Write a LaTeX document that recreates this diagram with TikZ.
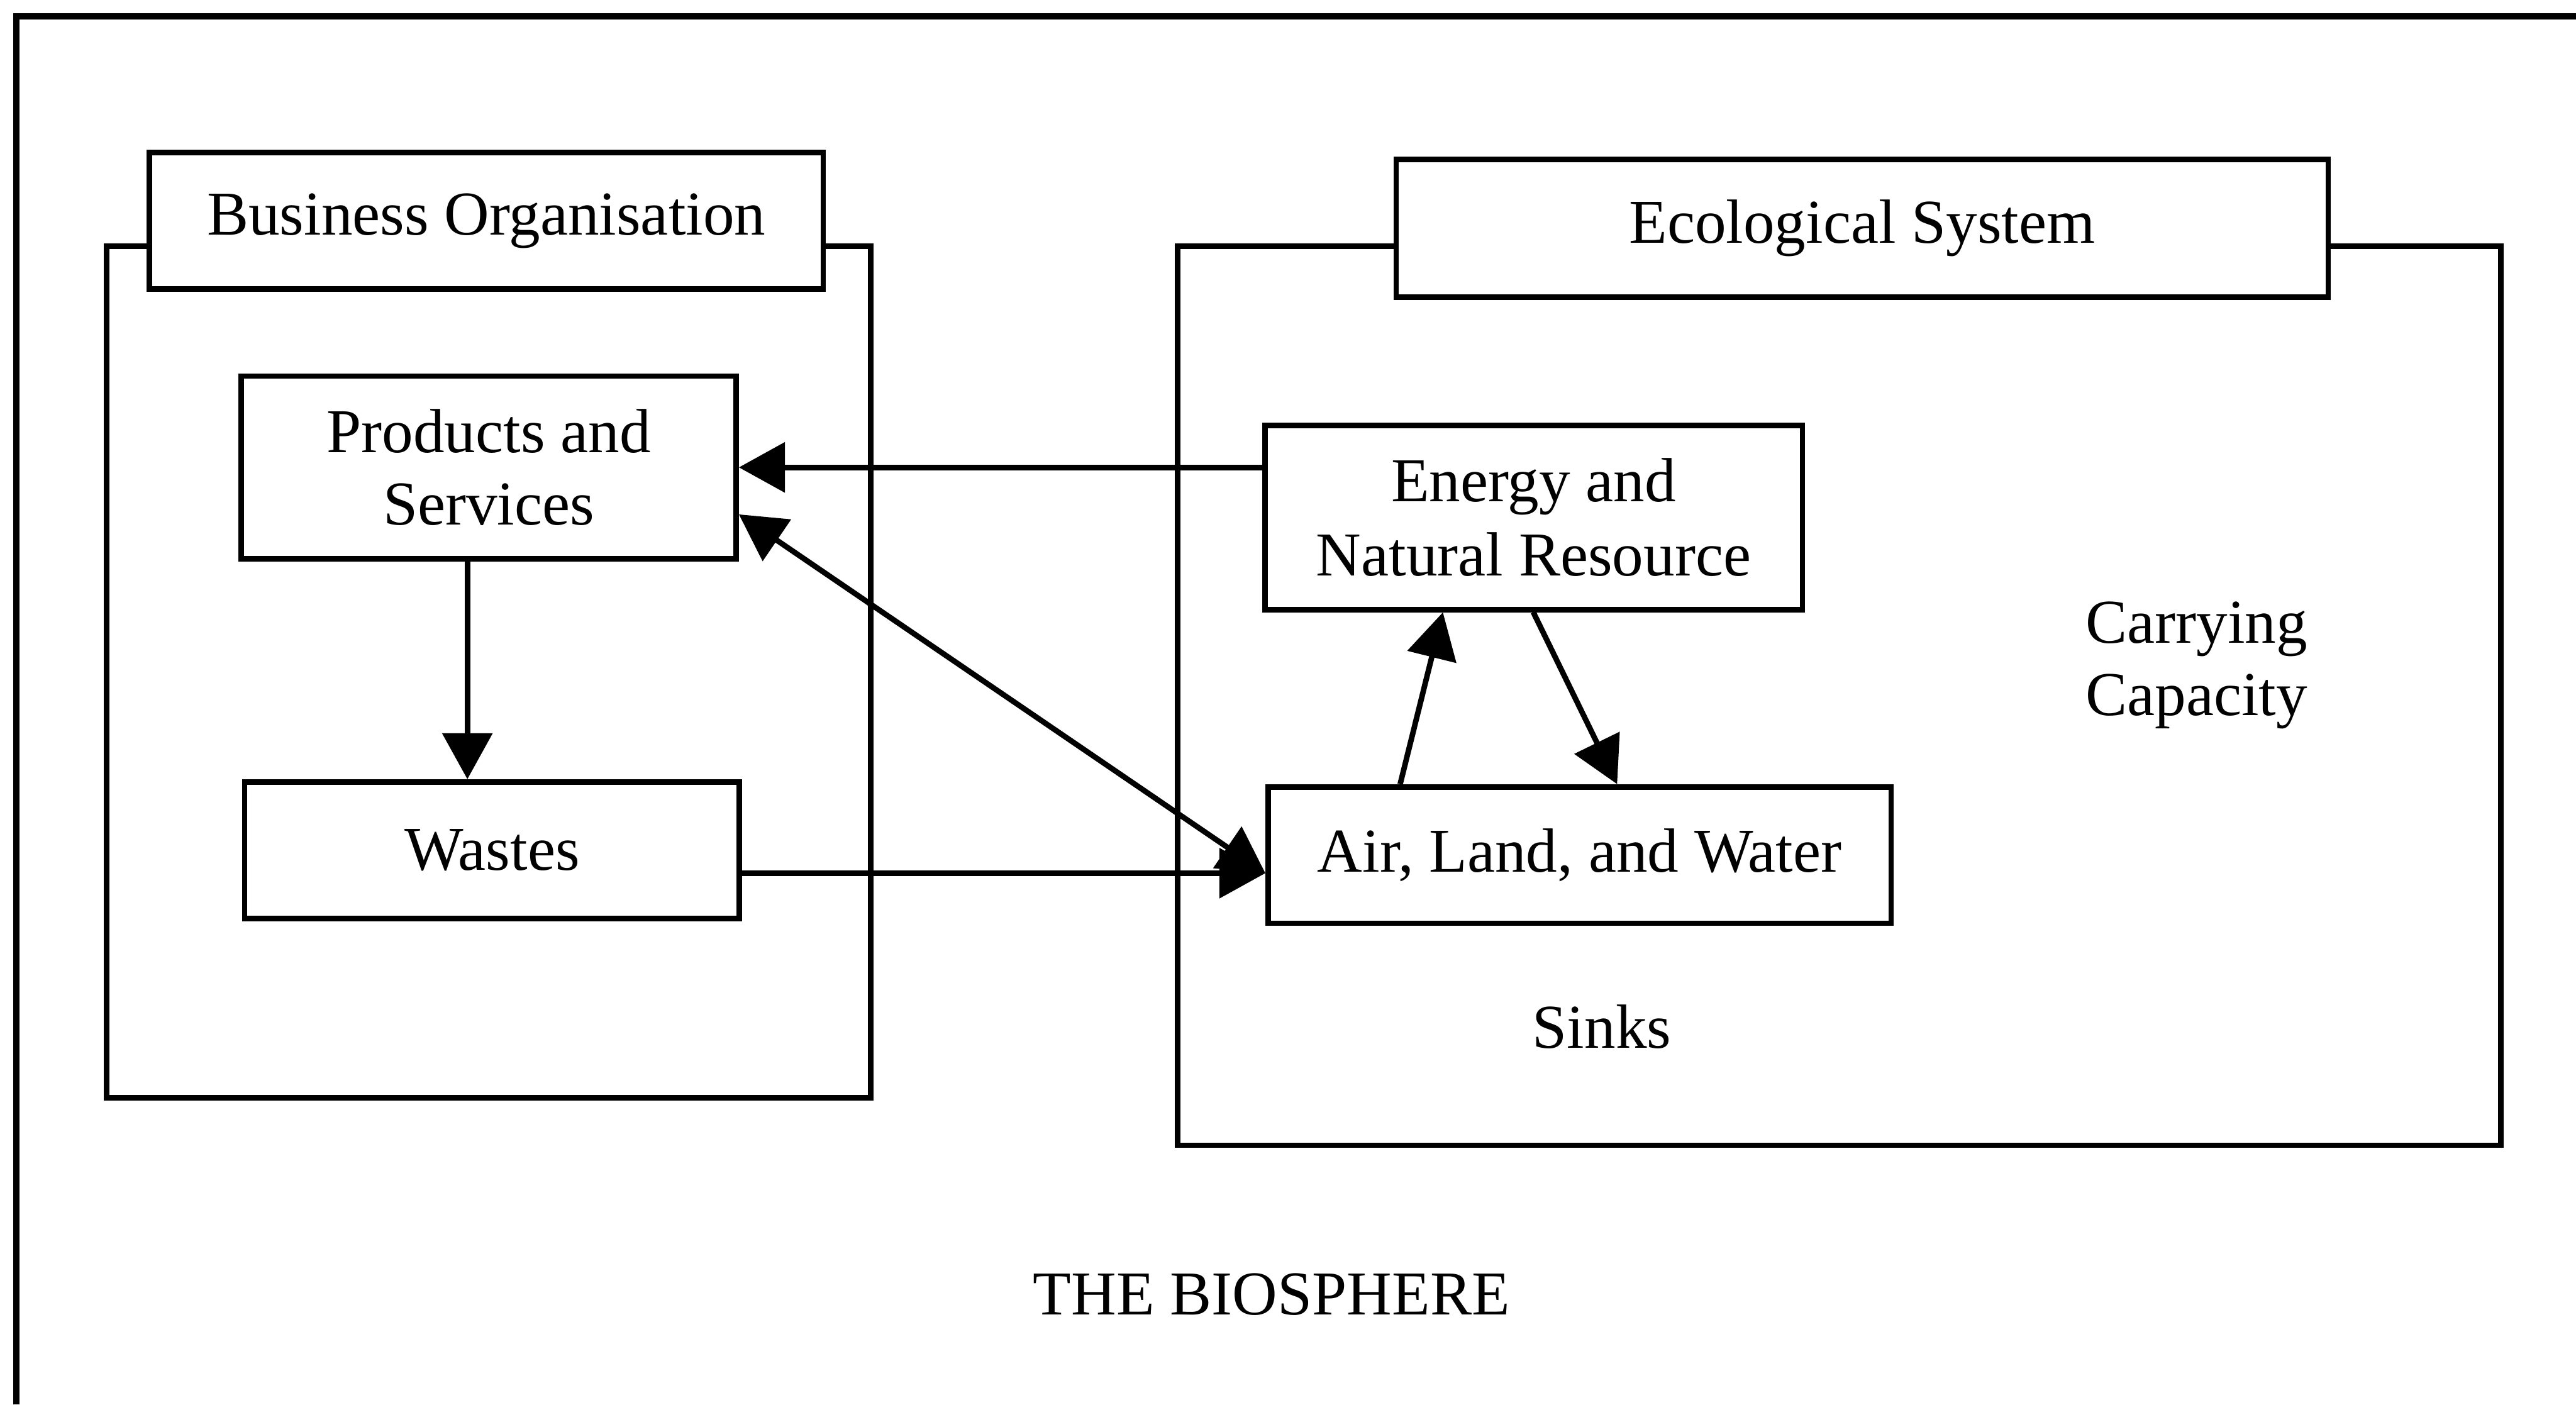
\documentclass[tikz,border=0pt]{standalone}
\usepackage{fontspec}
\setmainfont{Liberation Serif}
\usetikzlibrary{arrows.meta,calc}
\begin{document}
\begin{tikzpicture}[x=0.01cm,y=-0.01cm,
  line width=0.95pt,
  every node/.style={font=\fontsize{10.8pt}{12.6pt}\selectfont},
  box/.style={draw, inner sep=0pt, align=center},
  titlebox/.style={box, fill=white},
  arr/.style={-{Triangle[length=0.28cm,width=0.30cm]}},
  dbl/.style={{Triangle[length=0.28cm,width=0.30cm]}-{Triangle[length=0.28cm,width=0.30cm]}},
]
\useasboundingbox (0,0) rectangle (1568,855);

% biosphere frame
\draw[line width=1.05pt] (10,855) -- (10,10) -- (1568,10);

% the two systems
\node[box, minimum width=4.65cm, minimum height=5.18cm] (busOuter) at (297.5,409) {};
\node[box, minimum width=8.05cm, minimum height=5.47cm] (ecoOuter) at (1119.5,423.5) {};
\node[titlebox, minimum width=4.10cm, minimum height=0.83cm] (busTitle) at (296,134.5) {Business Organisation};
\node[titlebox, minimum width=5.67cm, minimum height=0.84cm] (ecoTitle) at (1133.5,139) {Ecological System};

% inner boxes
\node[box, minimum width=3.01cm, minimum height=1.11cm] (products) at (297.5,284.5) {Products and\\Services};
\node[box, minimum width=3.01cm, minimum height=0.83cm] (wastes) at (299.5,517.5) {Wastes};
\node[box, minimum width=3.27cm, minimum height=1.12cm] (energy) at (933.5,315) {\raisebox{-0.06cm}{\shortstack{Energy and\\Natural Resource}}};
\node[box, minimum width=3.79cm, minimum height=0.83cm] (air) at (961.5,520.5) {Air, Land, and Water};

% free labels
\node[align=left] (carrying) at (1337,405) {Carrying\\Capacity};
\node (sinks) at (975,625) {Sinks};
\node (biosphere) at (774,788) {THE BIOSPHERE};

% flows
\draw[arr] (energy.west |- products.east) -- (products.east);
\draw[arr] ([xshift=-0.13cm]products.south) coordinate (pw) -- (wastes.north -| pw);
\coordinate (wa) at ([yshift=-0.14cm]wastes.east);
\coordinate (airIn) at (air.west |- wa);
\draw[arr] (wa) -- (airIn);
\draw[dbl] ($(products.east)!0.5!(products.south east)$) -- (airIn);
\draw[arr] ([xshift=0.82cm]air.north west) -- ([xshift=1.10cm]energy.south west);
\draw[arr] ([xshift=1.65cm]energy.south west) -- ([xshift=2.14cm]air.north west);
\end{tikzpicture}
\end{document}
